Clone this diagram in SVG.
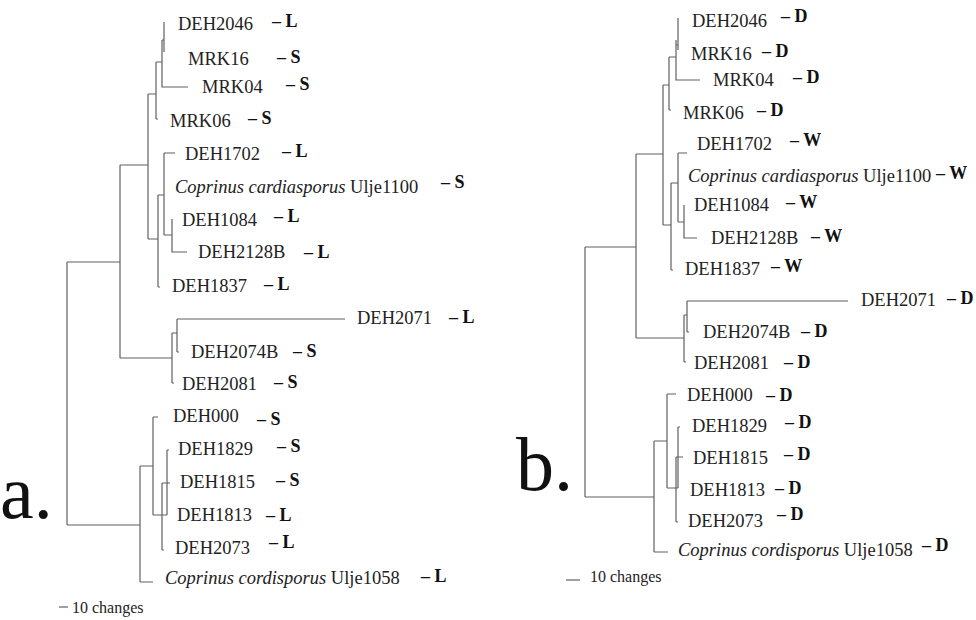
<svg xmlns="http://www.w3.org/2000/svg" width="976" height="620" viewBox="0 0 976 620">
<style>
.lbl{font-family:"Liberation Serif","Times New Roman",serif;font-size:18.5px;fill:#222}
.it{font-style:italic}
.mk{font-family:"Liberation Serif","Times New Roman",serif;font-size:18px;font-weight:bold;fill:#111}
.big{font-family:"Liberation Serif","Times New Roman",serif;font-size:76px;fill:#111}
.sc{font-family:"Liberation Serif","Times New Roman",serif;font-size:16px;fill:#222}
.edges path{stroke:#606060;stroke-width:1.2;fill:none}
</style>
<rect width="976" height="620" fill="#fff"/>
<g class="edges" id="connectors-a">
<path d="M67,262V525M67,262H120M67,525H140"/>
<path d="M120,165V358M120,165H148M120,358H172"/>
<path d="M148,94V239M148,94H156M148,239H158"/>
<path d="M156,62V119M156,62H162M156,119H158"/>
<path d="M162,40V87H188M164,22V52M162,40H164"/>
<path d="M158,195V287M158,195H164M158,287H160"/>
<path d="M164,153V235M164,153H175M164,235H172"/>
<path d="M172,219V252H187"/>
<path d="M172,333V383M172,333H177M177,319V352M177,319H345M177,352H179M172,383H174"/>
<path d="M140,466V582M140,466H153M140,582H153"/>
<path d="M153,417V515M153,417H158M153,515H167"/>
<path d="M167,450V515M167,450H169M162,483V550M162,483H170M162,550H164"/>
<path d="M59,607H68"/>
</g>
<g class="edges" id="connectors-b">
<path d="M585,247V497M585,247H636M585,497H654"/>
<path d="M636,154V338M636,154H663M636,338H684"/>
<path d="M663,85V225M663,85H669M663,225H671"/>
<path d="M669,57V110M669,57H676M669,110H671"/>
<path d="M676,40V80H700M678,18V50M676,45H678"/>
<path d="M671,183V270M671,183H678M671,270H673"/>
<path d="M678,153V222M678,153H687M678,222H684"/>
<path d="M684,205V238H697"/>
<path d="M684,315V362M684,315H687M687,301V332M687,301H848M687,332H689M684,362H686"/>
<path d="M654,441V552M654,441H667M654,552H668"/>
<path d="M667,394V488M667,394H676M667,488H678"/>
<path d="M678,427V488M678,427H680M676,457V522M676,457H683M676,522H678"/>
<path d="M566,580H580"/>
</g>
<g id="panel-a-label"><text class="big" x="0" y="518">a.</text></g>
<g id="panel-b-label"><text class="big" x="516" y="490">b.</text></g>
<g id="a-DEH2046"><text class="lbl" x="178" y="30">DEH2046</text><text class="mk" x="272" y="27">– L</text></g>
<g id="a-MRK16"><text class="lbl" x="188" y="65">MRK16</text><text class="mk" x="277" y="63">– S</text></g>
<g id="a-MRK04"><text class="lbl" x="202" y="93">MRK04</text><text class="mk" x="286" y="90">– S</text></g>
<g id="a-MRK06"><text class="lbl" x="170" y="127">MRK06</text><text class="mk" x="248" y="124">– S</text></g>
<g id="a-DEH1702"><text class="lbl" x="185" y="160">DEH1702</text><text class="mk" x="282" y="157">– L</text></g>
<g id="a-Ulje1100"><text class="lbl" x="175" y="193"><tspan class="it">Coprinus cardiasporus</tspan> Ulje1100</text><text class="mk" x="441" y="188">– S</text></g>
<g id="a-DEH1084"><text class="lbl" x="182" y="226">DEH1084</text><text class="mk" x="274" y="222">– L</text></g>
<g id="a-DEH2128B"><text class="lbl" x="198" y="258">DEH2128B</text><text class="mk" x="304" y="258">– L</text></g>
<g id="a-DEH1837"><text class="lbl" x="172" y="292">DEH1837</text><text class="mk" x="264" y="290">– L</text></g>
<g id="a-DEH2071"><text class="lbl" x="357" y="324">DEH2071</text><text class="mk" x="449" y="323">– L</text></g>
<g id="a-DEH2074B"><text class="lbl" x="191" y="358">DEH2074B</text><text class="mk" x="293" y="357">– S</text></g>
<g id="a-DEH2081"><text class="lbl" x="182" y="390">DEH2081</text><text class="mk" x="274" y="388">– S</text></g>
<g id="a-DEH000"><text class="lbl" x="173" y="422">DEH000</text><text class="mk" x="257" y="425">– S</text></g>
<g id="a-DEH1829"><text class="lbl" x="178" y="455">DEH1829</text><text class="mk" x="277" y="452">– S</text></g>
<g id="a-DEH1815"><text class="lbl" x="180" y="488">DEH1815</text><text class="mk" x="276" y="486">– S</text></g>
<g id="a-DEH1813"><text class="lbl" x="177" y="521">DEH1813</text><text class="mk" x="266" y="521">– L</text></g>
<g id="a-DEH2073"><text class="lbl" x="175" y="554">DEH2073</text><text class="mk" x="269" y="548">– L</text></g>
<g id="a-Ulje1058"><text class="lbl" x="165" y="584"><tspan class="it">Coprinus cordisporus</tspan> Ulje1058</text><text class="mk" x="421" y="582">– L</text></g>
<g id="a-scale"><text class="sc" x="72" y="613">10 changes</text></g>
<g id="b-DEH2046"><text class="lbl" x="692" y="27">DEH2046</text><text class="mk" x="781" y="22">– D</text></g>
<g id="b-MRK16"><text class="lbl" x="691" y="60">MRK16</text><text class="mk" x="762" y="57">– D</text></g>
<g id="b-MRK04"><text class="lbl" x="713" y="86">MRK04</text><text class="mk" x="793" y="83">– D</text></g>
<g id="b-MRK06"><text class="lbl" x="683" y="119">MRK06</text><text class="mk" x="757" y="116">– D</text></g>
<g id="b-DEH1702"><text class="lbl" x="697" y="150">DEH1702</text><text class="mk" x="790" y="146">– W</text></g>
<g id="b-Ulje1100"><text class="lbl" x="688" y="182"><tspan class="it">Coprinus cardiasporus</tspan> Ulje1100</text><text class="mk" x="936" y="179">– W</text></g>
<g id="b-DEH1084"><text class="lbl" x="694" y="211">DEH1084</text><text class="mk" x="786" y="208">– W</text></g>
<g id="b-DEH2128B"><text class="lbl" x="711" y="244">DEH2128B</text><text class="mk" x="811" y="242">– W</text></g>
<g id="b-DEH1837"><text class="lbl" x="685" y="275">DEH1837</text><text class="mk" x="771" y="272">– W</text></g>
<g id="b-DEH2071"><text class="lbl" x="861" y="306">DEH2071</text><text class="mk" x="947" y="304">– D</text></g>
<g id="b-DEH2074B"><text class="lbl" x="703" y="338">DEH2074B</text><text class="mk" x="801" y="337">– D</text></g>
<g id="b-DEH2081"><text class="lbl" x="694" y="369">DEH2081</text><text class="mk" x="784" y="368">– D</text></g>
<g id="b-DEH000"><text class="lbl" x="687" y="401">DEH000</text><text class="mk" x="766" y="401">– D</text></g>
<g id="b-DEH1829"><text class="lbl" x="692" y="432">DEH1829</text><text class="mk" x="785" y="428">– D</text></g>
<g id="b-DEH1815"><text class="lbl" x="693" y="464">DEH1815</text><text class="mk" x="784" y="460">– D</text></g>
<g id="b-DEH1813"><text class="lbl" x="690" y="496">DEH1813</text><text class="mk" x="775" y="494">– D</text></g>
<g id="b-DEH2073"><text class="lbl" x="688" y="527">DEH2073</text><text class="mk" x="777" y="520">– D</text></g>
<g id="b-Ulje1058"><text class="lbl" x="678" y="556"><tspan class="it">Coprinus cordisporus</tspan> Ulje1058</text><text class="mk" x="922" y="551">– D</text></g>
<g id="b-scale"><text class="sc" x="590" y="582">10 changes</text></g>
</svg>
